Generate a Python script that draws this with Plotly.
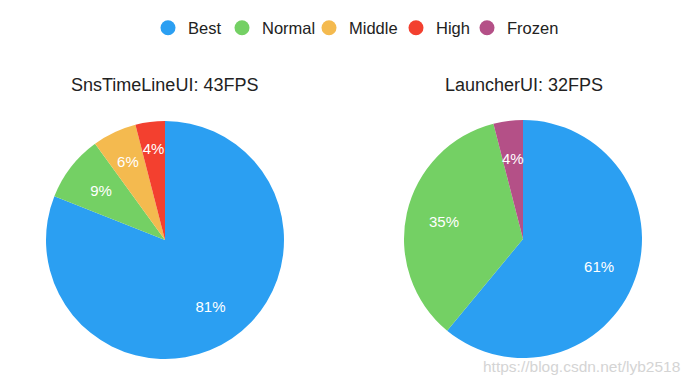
import plotly.graph_objects as go

categories = ["Best", "Normal", "Middle", "High", "Frozen"]
colors = ["#2b9ff2", "#74d064", "#f4ba4f", "#f3402f", "#b45087"]

left_title = "SnsTimeLineUI: 43FPS"
left_labels = ["Best", "Normal", "Middle", "High"]
left_values = [81, 9, 6, 4]

right_title = "LauncherUI: 32FPS"
right_labels = ["Best", "Normal", "Frozen"]
right_values = [61, 35, 4]

color_map = dict(zip(categories, colors))
FONT = "Liberation Sans, Arial, Helvetica, sans-serif"
W, H = 684, 378

fig = go.Figure()

def dom(center, half, s=1.0):
    return [center - half * s, center + half * s]

def add_pie(labels, values, cx, cy, hx, hy, small_scale):
    x_dom, y_dom = dom(cx, hx), dom(cy, hy)
    fig.add_trace(go.Pie(
        labels=labels, values=values,
        marker=dict(colors=[color_map[l] for l in labels], line=dict(width=0)),
        sort=False, direction="clockwise", rotation=0,
        textinfo="none",
        domain=dict(x=x_dom, y=y_dom),
        showlegend=False, hoverinfo="label+percent",
    ))
    total = sum(values)
    big = ["%{percent:.0%}" if v / total >= 0.2 else "" for v in values]
    small = ["%{percent:.0%}" if v / total < 0.2 else "" for v in values]
    for tmpl, s in ((big, 1.0), (small, small_scale)):
        fig.add_trace(go.Pie(
            labels=labels, values=values, hole=0.36,
            marker=dict(colors=["rgba(0,0,0,0)"] * len(labels), line=dict(width=0)),
            sort=False, direction="clockwise", rotation=0,
            texttemplate=tmpl, textposition="inside",
            insidetextorientation="horizontal",
            textfont=dict(color="white", size=15, family=FONT),
            domain=dict(x=dom(cx, hx, s), y=dom(cy, hy, s)),
            showlegend=False, hoverinfo="skip",
        ))

add_pie(left_labels, left_values, 0.229535, 0.386245, 0.173975, 0.314815, 0.87)
add_pie(right_labels, right_values, 0.752925, 0.388885, 0.173975, 0.314815, 0.77)

# legend entries with circular markers, one legend per entry for spacing
legend_centers = [169, 243, 330, 417, 488]
layout_legends = {}
for i, c in enumerate(categories):
    key = "legend" if i == 0 else f"legend{i + 1}"
    fig.add_trace(go.Scatter(
        x=[None], y=[None], mode="markers", name=c,
        marker=dict(symbol="circle", size=15, color=color_map[c]),
        showlegend=True, legend=key,
    ))
    layout_legends[key] = dict(
        orientation="h", x=(legend_centers[i] - 8 - 21) / W, xanchor="left",
        y=0.947, yanchor="middle", font=dict(size=16.5, color="#222222"),
        itemwidth=30, bgcolor="rgba(0,0,0,0)",
    )

fig.update_layout(
    width=W, height=H,
    margin=dict(l=0, r=0, t=0, b=0),
    paper_bgcolor="white", plot_bgcolor="white",
    font=dict(family=FONT, color="#222222"),
    xaxis=dict(visible=False), yaxis=dict(visible=False),
    uniformtext=dict(minsize=15, mode="show"),
    annotations=[
        dict(text=left_title, x=0.2288, y=0.7963, xref="paper", yref="paper",
             showarrow=False, font=dict(size=18, color="#222222"), xanchor="center", yanchor="middle"),
        dict(text=right_title, x=0.7544, y=0.7963, xref="paper", yref="paper",
             showarrow=False, font=dict(size=18, color="#222222"), xanchor="center", yanchor="middle"),
        dict(text="https://blog.csdn.net/lyb2518", x=0.9854, y=0.0503, xref="paper", yref="paper",
             showarrow=False, font=dict(size=15.5, color="#d4d4d4"), xanchor="right", yanchor="middle"),
    ],
    **layout_legends,
)

fig.write_html("out.html")
